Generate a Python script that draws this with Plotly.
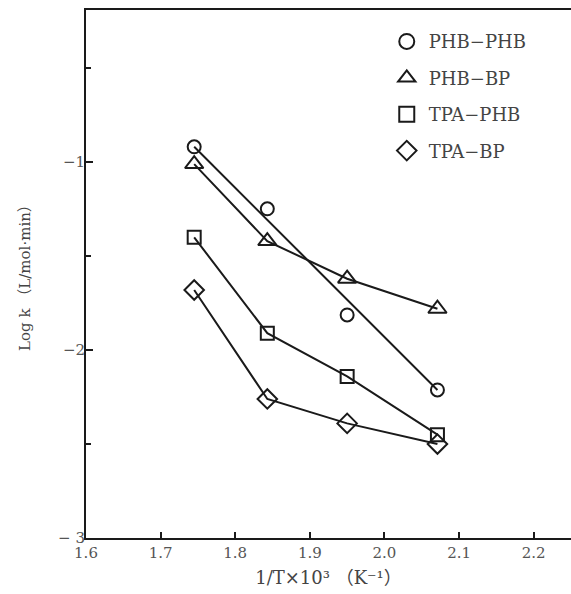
import plotly.graph_objects as go

# Data
inv_T = [1.745, 1.843, 1.950, 2.071]
phb_phb = [-0.918, -1.248, -1.813, -2.212]
phb_bp = [-1.01, -1.42, -1.62, -1.78]
tpa_phb = [-1.40, -1.91, -2.14, -2.45]
tpa_bp = [-1.68, -2.26, -2.39, -2.50]
# straight line drawn through the PHB-PHB points
phb_phb_fit_x = [1.745, 2.071]
phb_phb_fit_y = [-0.918, -2.212]

x_ticks = [1.6, 1.7, 1.8, 1.9, 2.0, 2.1, 2.2]
x_ticklabels = ["1.6", "1.7", "1.8", "1.9", "2.0", "2.1", "2.2"]
y_ticks = [-3, -2, -1]
y_ticklabels = ["− 3", "−2", "−1"]
y_minor = [-2.5, -1.5, -0.5]

names = ["PHB−PHB", "PHB−BP", "TPA−PHB", "TPA−BP"]
symbols = ["circle-open", "triangle-up-open", "square-open", "diamond-open"]
sizes = [13, 16, 13, 15]

INK = "#1a1a1a"
FONT = "DejaVu Serif, Liberation Serif, Noto Sans CJK JP, serif"

fig = go.Figure()

# PHB-PHB: fitted line + markers
fig.add_trace(go.Scatter(x=phb_phb_fit_x, y=phb_phb_fit_y, mode="lines",
                         line=dict(color=INK, width=2), showlegend=False))
fig.add_trace(go.Scatter(x=inv_T, y=phb_phb, mode="markers",
                         marker=dict(symbol=symbols[0], size=sizes[0], color=INK,
                                     line=dict(width=2, color=INK)),
                         showlegend=False))
for ys, sym, sz in [(phb_bp, symbols[1], sizes[1]),
                    (tpa_phb, symbols[2], sizes[2]),
                    (tpa_bp, symbols[3], sizes[3])]:
    fig.add_trace(go.Scatter(x=inv_T, y=ys, mode="lines+markers",
                             line=dict(color=INK, width=2),
                             marker=dict(symbol=sym, size=sz, color=INK,
                                         line=dict(width=2, color=INK)),
                             showlegend=False))

# legend-only entries (markers only)
for i, (nm, sym) in enumerate(zip(names, symbols)):
    fig.add_trace(go.Scatter(x=[None], y=[None], mode="markers", name=nm,
                             legendgroup=str(i),
                             marker=dict(symbol=sym, size=15, color=INK,
                                         line=dict(width=2, color=INK))))

fig.update_layout(
    width=571, height=594,
    margin=dict(l=86, r=0, t=10, b=56),
    paper_bgcolor="white", plot_bgcolor="white",
    font=dict(family=FONT, color="#444", size=15),
    legend=dict(x=0.616, y=0.975, xanchor="left", yanchor="top",
                font=dict(size=18, color="#444", family=FONT),
                tracegroupgap=10, bgcolor="rgba(0,0,0,0)", itemwidth=34),
    xaxis=dict(range=[1.6, 2.25], tickvals=x_ticks, ticktext=x_ticklabels,
               ticks="inside", ticklen=6, tickwidth=1.5, tickcolor=INK,
               showline=True, linewidth=2, linecolor=INK, mirror=True,
               showgrid=False, zeroline=False,
               tickfont=dict(size=15, color="#555"),
               title=dict(text="1/T×10³ （K⁻¹）", font=dict(size=18, color="#444"),
                          standoff=10)),
    yaxis=dict(range=[-3, -0.19], tickvals=y_ticks, ticktext=y_ticklabels,
               ticks="inside", ticklen=7, tickwidth=1.5, tickcolor=INK,
               ticklabelstandoff=-4,
               minor=dict(tickvals=y_minor, ticks="inside", ticklen=5,
                          tickwidth=1.5, tickcolor=INK),
               showline=True, linewidth=2, linecolor=INK, mirror=False,
               showgrid=False, zeroline=False,
               tickfont=dict(size=15, color="#555"),
               title=dict(text="Log k （L/mol·min）", font=dict(size=15, color="#444"),
                          standoff=24)),
)

fig.write_html("out.html", config={"displayModeBar": False},
               post_script="document.body.style.margin='0px';")
